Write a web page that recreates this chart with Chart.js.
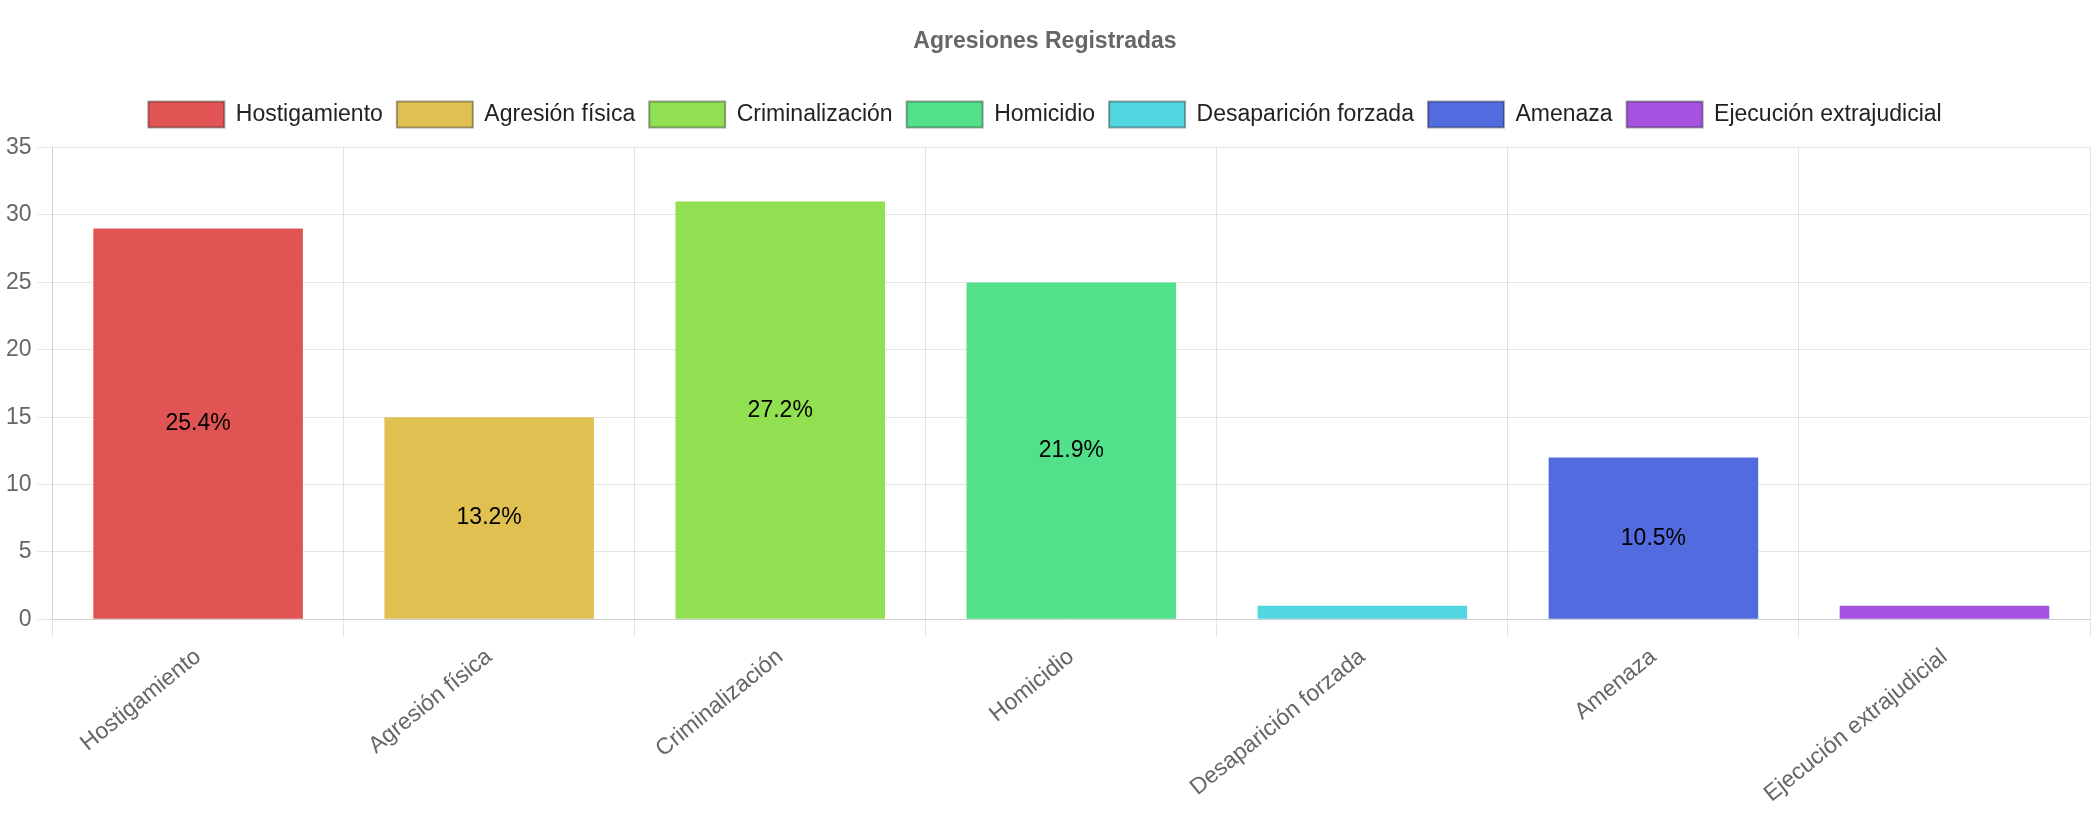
<!DOCTYPE html>
<html>
<head>
<meta charset="utf-8">
<script src="https://cdn.jsdelivr.net/npm/chart.js@4/dist/chart.umd.min.js"></script>
<style>
  html, body { margin: 0; padding: 0; background: #fff; }
  #wrap { width: 2092px; height: 814px; }
</style>
</head>
<body>
<div id="wrap"><canvas id="myChart" width="2092" height="814"></canvas></div>
<script>

const categorias = ['Hostigamiento', 'Agresión física', 'Criminalización', 'Homicidio', 'Desaparición forzada', 'Amenaza', 'Ejecución extrajudicial']
const valores = [29, 15, 31, 25, 1, 12, 1]
const colores = ['#E05454', '#E0C050', '#90E052', '#52E08A', '#52D6E0', '#526CE0', '#A652E0']
const ticksY = [0, 5, 10, 15, 20, 25, 30, 35]

const total = valores.reduce((a, b) => a + b, 0)

// one dataset per category so the legend shows each one
const datasets = categorias.map((cat, i) => ({
  label: cat,
  backgroundColor: colores[i],
  borderWidth: 0,
  data: categorias.map((c, j) => j === i ? valores[i] : null),
  skipNull: true
}))

// percentage in the middle of each bar
const porcentajes = {
  id: 'porcentajes',
  afterDatasetsDraw(chart) {
    const ctx = chart.ctx
    ctx.save()
    ctx.font = '23px "Liberation Sans", Arial, sans-serif'
    ctx.fillStyle = '#000'
    ctx.textAlign = 'center'
    ctx.textBaseline = 'middle'
    chart.data.datasets.forEach((ds, i) => {
      const meta = chart.getDatasetMeta(i)
      meta.data.forEach((bar, j) => {
        const v = ds.data[j]
        if (v == null) return
        const pct = v / total * 100
        if (pct < 5) return
        const p = bar.getProps(['x', 'y', 'base'], true)
        ctx.fillText(pct.toFixed(1) + '%', p.x, (p.y + p.base) / 2)
      })
    })
    ctx.restore()
  }
}

// a bit more room under the legend
const espacioLeyenda = {
  id: 'espacioLeyenda',
  beforeInit(chart) {
    const fit = chart.legend.fit
    chart.legend.fit = function () {
      fit.call(this)
      this.height += 10
    }
  }
}

Chart.defaults.font.family = '"Liberation Sans", Arial, sans-serif'
Chart.defaults.font.size = 23
Chart.defaults.color = '#666'

const config = {
  type: 'bar',
  data: { labels: categorias, datasets: datasets },
  options: {
    responsive: false,
    animation: false,
    devicePixelRatio: 1,
    layout: { padding: { left: 0, right: 2, top: 0, bottom: 0 } },
    plugins: {
      title: {
        display: true,
        text: 'Agresiones Registradas',
        color: '#666',
        font: { size: 23, weight: 'bold' },
        padding: { top: 28, bottom: 32 }
      },
      legend: {
        position: 'top',
        labels: {
          color: '#222',
          boxWidth: 76,
          boxHeight: 26,
          padding: 14,
          font: { size: 23 },
          generateLabels(chart) {
            return Chart.defaults.plugins.legend.labels.generateLabels(chart).map(l => ({
              ...l, lineWidth: 2, strokeStyle: 'rgba(0,0,0,0.35)'
            }))
          }
        }
      },
      tooltip: { enabled: false }
    },
    scales: {
      x: {
        grid: { color: 'rgba(0,0,0,0.1)', tickLength: 18, offset: true },
        ticks: { minRotation: 39, maxRotation: 39, color: '#666', font: { size: 23 }, padding: 6 }
      },
      y: {
        min: 0,
        max: 35,
        afterBuildTicks(axis) { axis.ticks = ticksY.map(v => ({ value: v })) },
        grid: { color: 'rgba(0,0,0,0.1)', tickLength: 15 },
        ticks: { color: '#666', font: { size: 23 }, padding: 6 }
      }
    }
  },
  plugins: [porcentajes, espacioLeyenda]
}

const myChart = new Chart(document.getElementById('myChart'), config)

</script>
</body>
</html>
